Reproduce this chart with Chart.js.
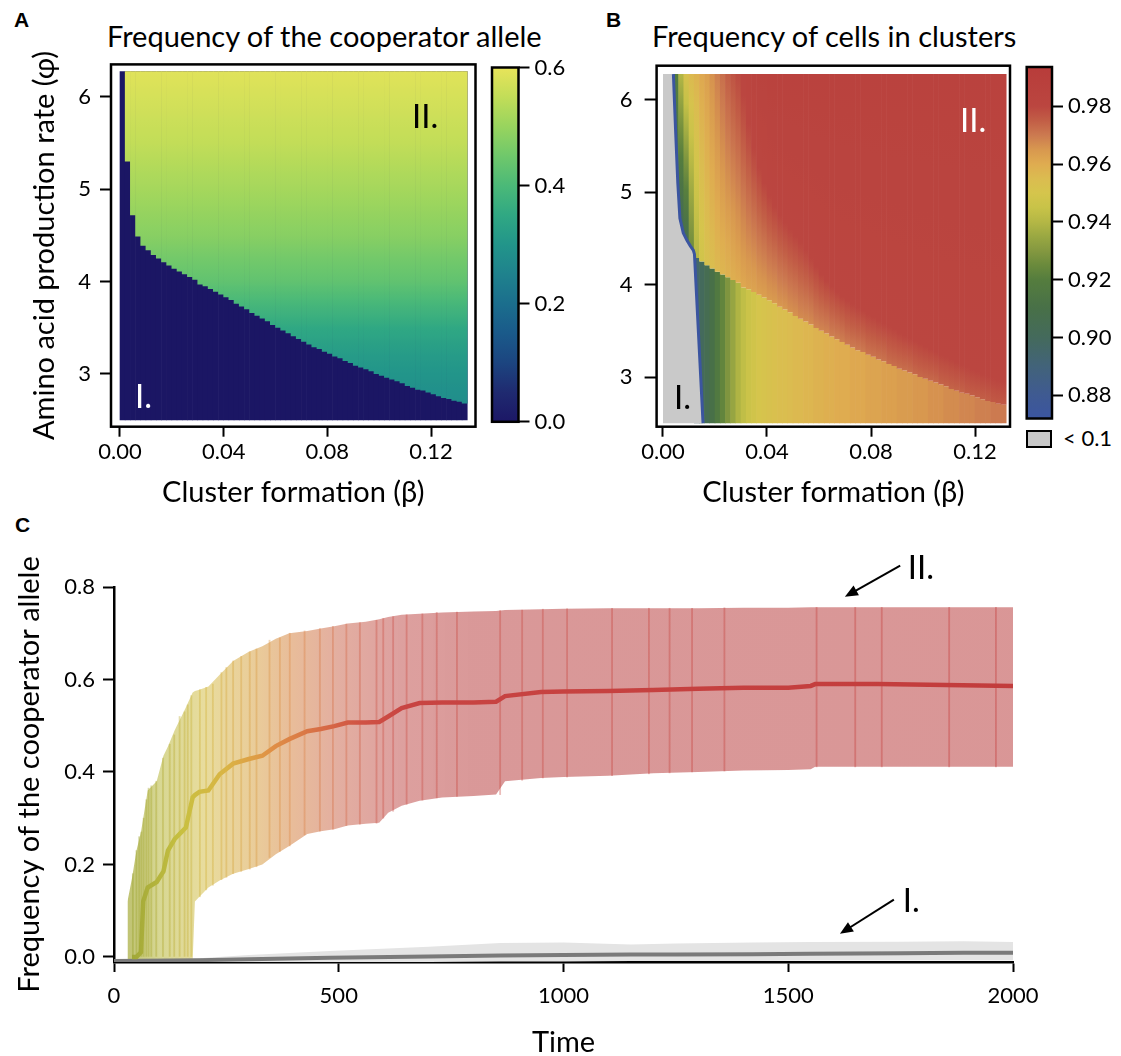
<!DOCTYPE html>
<html>
<head>
<meta charset="utf-8">
<script src="https://cdn.jsdelivr.net/npm/chart.js@4.4.1/dist/chart.umd.min.js"></script>
<style>
  body { margin: 0; background: #fff; }
  #fig { position: relative; width: 1121px; height: 1056px; overflow: hidden; font-family: Lato, sans-serif; }
  canvas { position: absolute; }
  .lbl { position: absolute; white-space: nowrap; color: #000; line-height: 1; }
  .panel { font-family: 'Liberation Sans', Arial, sans-serif; font-weight: bold; font-size: 21px; }
  .ttl { font-size: 29px; }
  #swatch { position: absolute; left: 1026px; top: 430px; width: 22px; height: 14px; background: #c8c8c8; border: 2px solid #000; }
</style>
</head>
<body>
<div id="fig">
  <div class="lbl panel" style="left:14px;top:9px">A</div>
  <div class="lbl ttl" style="left:107px;top:21px">Frequency of the cooperator allele</div>
  <div class="lbl panel" style="left:606px;top:9px">B</div>
  <div class="lbl ttl" style="left:652px;top:21px">Frequency of cells in clusters</div>
  <div class="lbl panel" style="left:15px;top:514px">C</div>
  <div id="swatch"></div>
  <div class="lbl" style="left:1063px;top:427px;font-size:22px">&lt; 0.1</div>

  <canvas id="chartA" width="560" height="520" style="left:0;top:0"></canvas>
  <canvas id="chartB" width="500" height="520" style="left:560px;top:0"></canvas>
  <canvas id="barA" width="110" height="400" style="left:470px;top:40px"></canvas>
  <canvas id="barB" width="116" height="420" style="left:1005px;top:40px"></canvas>
  <canvas id="chartC" width="1121" height="560" style="left:0;top:500px"></canvas>
</div>
<script>
// ---------- panels A and B: heat map columns (cluster formation beta) ----------
const betaCols = [0.001, 0.003, 0.005, 0.007, 0.009, 0.011, 0.013, 0.015, 0.017, 0.019,
  0.021, 0.023, 0.025, 0.027, 0.029, 0.031, 0.033, 0.035, 0.037, 0.039,
  0.041, 0.043, 0.045, 0.047, 0.049, 0.051, 0.053, 0.055, 0.057, 0.059,
  0.061, 0.063, 0.065, 0.067, 0.069, 0.071, 0.073, 0.075, 0.077, 0.079,
  0.081, 0.083, 0.085, 0.087, 0.089, 0.091, 0.093, 0.095, 0.097, 0.099,
  0.101, 0.103, 0.105, 0.107, 0.109, 0.111, 0.113, 0.115, 0.117, 0.119,
  0.121, 0.123, 0.125, 0.127, 0.129, 0.131, 0.133];
const phiMin = 2.5, phiMax = 6.28;

// phi above which cooperators persist (region II), per column
const boundaryPhi = [null, 5.30, 4.72, 4.49, 4.39, 4.34, 4.29, 4.25, 4.21, 4.175,
  4.14, 4.11, 4.08, 4.05, 4.02, 3.97, 3.95, 3.92, 3.89, 3.86,
  3.83, 3.80, 3.76, 3.73, 3.70, 3.66, 3.63, 3.60, 3.57, 3.53,
  3.50, 3.47, 3.44, 3.41, 3.38, 3.35, 3.32, 3.29, 3.27, 3.24,
  3.22, 3.19, 3.17, 3.14, 3.12, 3.09, 3.07, 3.05, 3.03, 3.00,
  2.98, 2.96, 2.94, 2.92, 2.90, 2.87, 2.85, 2.83, 2.82, 2.80,
  2.78, 2.76, 2.74, 2.73, 2.71, 2.70, 2.68];

// panel A: cooperator frequency inside region II along phi
const phiProfile = [2.5, 2.7, 3.0, 3.2, 3.5, 3.8, 4.0, 4.5, 5.0, 5.5, 6.0, 6.28];
const freqProfile = [0.27, 0.28, 0.30, 0.315, 0.35, 0.40, 0.43, 0.48, 0.515, 0.55, 0.575, 0.59];

// panel B: frequency of cells in clusters
const bLow = [null, null, null, null, null, null, 0.895, 0.90, 0.905, 0.91,
  0.917, 0.923, 0.929, 0.934, 0.939, 0.943, 0.946, 0.948, 0.950, 0.951,
  0.952, 0.953, 0.954, 0.954, 0.955, 0.956, 0.956, 0.957, 0.957, 0.958,
  0.958, 0.959, 0.959, 0.960, 0.960, 0.960, 0.961, 0.961, 0.961, 0.962,
  0.962, 0.962, 0.963, 0.963, 0.963, 0.964, 0.964, 0.964, 0.965, 0.965,
  0.965, 0.966, 0.966, 0.966, 0.967, 0.967, 0.967, 0.968, 0.968, 0.968,
  0.969, 0.969, 0.969, 0.970, 0.970, 0.970];
const bUpStart = [null, null, 0.91, 0.90, 0.905, 0.925, 0.94, 0.948, 0.952, 0.954,
  0.956, 0.957, 0.958, 0.959, 0.960, 0.961, 0.962, 0.962, 0.963, 0.963,
  0.964, 0.964, 0.965, 0.965, 0.966, 0.966, 0.967, 0.967, 0.967, 0.968,
  0.968, 0.968, 0.969, 0.969, 0.969, 0.970, 0.970, 0.970, 0.970, 0.971,
  0.971, 0.971, 0.971, 0.972, 0.972, 0.972, 0.972, 0.972, 0.973, 0.973,
  0.973, 0.973, 0.973, 0.974, 0.974, 0.974, 0.974, 0.974, 0.975, 0.975,
  0.975, 0.975, 0.975, 0.976, 0.976, 0.976];
const bRedPhi = [null, null, null, null, null, null, null, null, null, null,
  null, null, null, null, null, 6.05, 5.75, 5.48, 5.27, 5.10,
  4.96, 4.85, 4.75, 4.67, 4.60, 4.53, 4.46, 4.38, 4.29, 4.20,
  4.11, 4.04, 3.98, 3.92, 3.87, 3.83, 3.79, 3.75, 3.72, 3.68,
  3.65, 3.61, 3.58, 3.55, 3.52, 3.48, 3.45, 3.42, 3.39, 3.36,
  3.33, 3.30, 3.27, 3.24, 3.22, 3.19, 3.16, 3.13, 3.11, 3.08,
  3.06, 3.03, 3.01, 2.99, 2.97, 2.95];
const bUpTop = [null, null, 0.92, 0.94, 0.952, 0.956, 0.958, 0.961, 0.963, 0.966,
  0.969, 0.972, 0.975, 0.977, 0.979, 0.981, 0.982, 0.983, 0.984, 0.984,
  0.985, 0.985, 0.985, 0.985, 0.985, 0.985, 0.985, 0.985, 0.985, 0.985,
  0.985, 0.985, 0.985, 0.985, 0.985, 0.985, 0.985, 0.985, 0.985, 0.985,
  0.985, 0.985, 0.985, 0.985, 0.985, 0.985, 0.985, 0.985, 0.985, 0.985,
  0.985, 0.985, 0.985, 0.985, 0.985, 0.985, 0.985, 0.985, 0.985, 0.985,
  0.985, 0.985, 0.985, 0.985, 0.985, 0.985];
// edge of the "< 0.1" region (gray)
const grayEdgeBeta = [0, 0.004, 0.0048, 0.0057, 0.0065, 0.0078, 0.0092, 0.0105, 0.0117, 0.0121, 0.0154];
const grayEdgePhi = [6.28, 6.28, 5.7, 5.1, 4.72, 4.56, 4.48, 4.42, 4.37, 4.33, 2.5];

const ticksBeta = [0, 0.04, 0.08, 0.12];
const ticksPhi = [3, 4, 5, 6];
const ticksBarA = [0, 0.2, 0.4, 0.6];
const ticksBarB = [0.88, 0.90, 0.92, 0.94, 0.96, 0.98];

// ---------- panel C: time series ----------
const timeII = [30, 40, 50, 60, 65, 75, 95, 110, 120, 135, 150, 160, 175, 180, 190, 210, 235, 265, 300, 330,
  360, 390, 430, 460, 490, 520, 560, 590, 610, 640, 680, 730, 800, 850, 870, 950, 1000, 1100, 1200, 1300,
  1400, 1500, 1550, 1560, 1700, 1850, 2000];
const meanII = [null, 0.0, 0.0, 0.01, 0.12, 0.15, 0.162, 0.185, 0.23, 0.255, 0.27, 0.28, 0.345, 0.35, 0.357, 0.36, 0.395, 0.418, 0.428, 0.435,
  0.456, 0.471, 0.488, 0.493, 0.499, 0.507, 0.507, 0.508, 0.52, 0.538, 0.549, 0.55, 0.55, 0.552, 0.564, 0.573, 0.574, 0.575, 0.577, 0.58,
  0.582, 0.582, 0.586, 0.59, 0.59, 0.588, 0.586];
const upperII = [0.12, 0.17, 0.23, 0.27, 0.30, 0.36, 0.38, 0.435, 0.455, 0.49, 0.52, 0.54, 0.572, 0.575, 0.578, 0.585, 0.61, 0.64, 0.66, 0.672,
  0.688, 0.70, 0.705, 0.71, 0.715, 0.721, 0.725, 0.73, 0.735, 0.74, 0.742, 0.745, 0.747, 0.748, 0.75, 0.752, 0.753, 0.754, 0.754, 0.754,
  0.755, 0.755, 0.756, 0.756, 0.756, 0.756, 0.756];
const lowerII = [-0.008, -0.008, -0.008, -0.008, -0.008, -0.008, -0.008, -0.008, -0.008, -0.008, -0.008, -0.008, -0.008, 0.12, 0.13, 0.15, 0.165, 0.18, 0.19, 0.2,
  0.222, 0.24, 0.266, 0.272, 0.276, 0.284, 0.288, 0.29, 0.312, 0.327, 0.338, 0.345, 0.348, 0.351, 0.38, 0.387, 0.389, 0.392, 0.397, 0.40,
  0.403, 0.404, 0.406, 0.411, 0.411, 0.411, 0.411];

const timeI = [0, 190, 300, 480, 700, 860, 1000, 1150, 1250, 1420, 1550, 1750, 1890, 2000];
const meanI = [-0.009, -0.007, -0.005, -0.002, 0.001, 0.003, 0.004, 0.005, 0.005, 0.006, 0.007, 0.008, 0.009, 0.009];
const upperI = [-0.006, -0.003, 0.004, 0.013, 0.022, 0.030, 0.031, 0.027, 0.029, 0.031, 0.032, 0.033, 0.034, 0.032];
const lowerI = [-0.011, -0.011, -0.011, -0.011, -0.011, -0.010, -0.010, -0.009, -0.009, -0.009, -0.008, -0.008, -0.008, -0.008];

// individual error bars visible inside the band of II
const stripeT = [42, 50, 56, 61, 66, 72, 77, 83, 94, 109, 124, 134, 146, 157, 164, 172, 191, 205, 220, 239,
  250, 265, 283, 302, 317, 346, 369, 391, 424, 458, 487, 517, 547, 584, 599, 621, 651, 686, 718, 763,
  859, 908, 954, 1008, 1108, 1190, 1236, 1286, 1358, 1563, 1649, 1708, 1858, 1962];
const stripeLo = [0, 0, 0, 0, 0, 0, 0, 0, 0, 0, 0, 0, 0, 0, 0, 0, 0.13, 0.145, 0.155, 0.167,
  0.172, 0.18, 0.185, 0.19, 0.195, 0.215, 0.228, 0.24, 0.264, 0.272, 0.276, 0.284, 0.287, 0.289, 0.30, 0.315, 0.33, 0.339, 0.344, 0.347,
  0.351, 0.382, 0.387, 0.389, 0.392, 0.396, 0.398, 0.40, 0.402, 0.411, 0.411, 0.411, 0.411, 0.411];
const stripeHi = [0.18, 0.23, 0.26, 0.27, 0.30, 0.34, 0.365, 0.37, 0.38, 0.43, 0.46, 0.48, 0.52, 0.53, 0.545, 0.565, 0.578, 0.583, 0.59, 0.615,
  0.626, 0.64, 0.65, 0.66, 0.666, 0.685, 0.69, 0.70, 0.705, 0.71, 0.715, 0.72, 0.723, 0.728, 0.732, 0.736, 0.74, 0.742, 0.745, 0.746,
  0.749, 0.75, 0.752, 0.753, 0.754, 0.754, 0.754, 0.754, 0.755, 0.756, 0.756, 0.756, 0.756, 0.756];
const ticksTime = [0, 500, 1000, 1500, 2000];
const ticksFreq = [0, 0.2, 0.4, 0.6, 0.8];

// ---------- colours ----------
const viridis = [[0, '#1c1766'], [0.05, '#1f2a70'], [0.1, '#1c4580'], [0.15, '#1a5a8a'], [0.2, '#1b6e8d'],
  [0.25, '#1f828d'], [0.3, '#22958a'], [0.35, '#30a883'], [0.4, '#4bb978'], [0.45, '#6fc86b'],
  [0.5, '#98d45e'], [0.55, '#c2dd58'], [0.6, '#e8e45a']];
const clusterMap = [[0.872, '#3b55a0'], [0.88, '#3f5a92'], [0.89, '#42637a'], [0.90, '#446a5c'], [0.91, '#487048'],
  [0.92, '#557d3e'], [0.925, '#6a8a3c'], [0.93, '#849840'], [0.935, '#9aa842'], [0.94, '#b4b745'],
  [0.945, '#c8c348'], [0.95, '#d5c54c'], [0.955, '#dbbc50'], [0.96, '#dfac50'], [0.965, '#d8984f'],
  [0.97, '#cc7a50'], [0.975, '#c25e46'], [0.98, '#bb4640'], [0.9936, '#b83c3a']];
const bandColors = [[30, 'rgba(176,180,80,0.8)'], [100, 'rgba(205,205,120,0.8)'], [200, 'rgba(228,214,140,0.85)'],
  [300, 'rgba(230,198,136,0.85)'], [400, 'rgba(228,176,136,0.85)'], [500, 'rgba(222,160,144,0.85)'],
  [620, 'rgba(216,145,143,0.85)'], [800, 'rgba(212,138,138,0.88)'], [2000, 'rgba(212,136,136,0.88)']];
const lineColors = [[40, '#a0a838'], [150, '#c8c040'], [250, '#dab444'], [350, '#e09046'], [450, '#d87046'],
  [550, '#d05244'], [650, '#c84442'], [2000, '#c23c3c']];
const stripeColors = [[40, 'rgba(150,160,40,0.4)'], [200, 'rgba(210,180,60,0.4)'], [400, 'rgba(220,130,60,0.35)'],
  [600, 'rgba(200,70,60,0.35)'], [2000, 'rgba(195,60,60,0.4)']];
const NAVY = '#1b1664';

function hexRgb(h) { return [1, 3, 5].map(i => parseInt(h.slice(i, i + 2), 16)); }
function cmap(stops, v) {
  if (v <= stops[0][0]) return stops[0][1];
  for (let i = 1; i < stops.length; i++) {
    if (v <= stops[i][0]) {
      const t = (v - stops[i - 1][0]) / (stops[i][0] - stops[i - 1][0]);
      const a = hexRgb(stops[i - 1][1]), b = hexRgb(stops[i][1]);
      return 'rgb(' + a.map((c, k) => Math.round(c + (b[k] - c) * t)).join(',') + ')';
    }
  }
  return stops[stops.length - 1][1];
}

// vertical gradient through (phi, value) pairs, coloured with a colour map
function vGradient(chart, pairs, stops) {
  const y = chart.scales.y;
  const lo = pairs[0][0], hi = pairs[pairs.length - 1][0];
  const g = chart.ctx.createLinearGradient(0, y.getPixelForValue(lo), 0, y.getPixelForValue(hi));
  for (let i = 0; i < pairs.length; i++) {
    const [p, v] = pairs[i];
    g.addColorStop((p - lo) / (hi - lo), cmap(stops, v));
    if (i < pairs.length - 1) {
      const [p2, v2] = pairs[i + 1];
      for (let k = 1; k < 6; k++) {
        const f = k / 6;
        g.addColorStop((p + (p2 - p) * f - lo) / (hi - lo), cmap(stops, v + (v2 - v) * f));
      }
    }
  }
  return g;
}
function hGradient(chart, stops) {
  const x = chart.scales.x;
  const x0 = x.getPixelForValue(0), x1 = x.getPixelForValue(2000);
  const g = chart.ctx.createLinearGradient(x0, 0, x1, 0);
  stops.forEach(([t, c]) => g.addColorStop(t / 2000, c));
  return g;
}

Chart.defaults.font.family = 'Lato, sans-serif';
Chart.defaults.color = '#000';
Chart.defaults.animation = false;
Chart.defaults.plugins.legend.display = false;
Chart.defaults.plugins.tooltip.enabled = false;

function axis(o) {
  return {
    type: 'linear', min: o.min, max: o.max, offset: false, position: o.position,
    afterBuildTicks: s => { s.ticks = o.ticks.map(v => ({ value: v })); },
    afterFit: s => { if (o.width != null) s.width = o.width; if (o.height != null) s.height = o.height; },
    ticks: { callback: o.fmt, font: { size: 22 }, padding: o.pad, maxRotation: 0, autoSkip: false },
    grid: { display: true, drawOnChartArea: false, drawTicks: true, tickLength: o.tl, tickWidth: 2, tickColor: '#000', offset: false },
    border: { display: !!o.border, color: '#000', width: 2.5 },
    title: o.title ? { display: true, text: o.title, font: { size: 29 }, padding: o.titlePad } : { display: false }
  };
}

const framePlugin = {
  id: 'frame',
  afterDraw(chart) {
    const { ctx, chartArea: a } = chart;
    ctx.save();
    ctx.lineWidth = 2.5;
    ctx.strokeStyle = '#000';
    ctx.strokeRect(a.left, a.top, a.right - a.left, a.bottom - a.top);
    ctx.restore();
  }
};

function notes(items) {
  return {
    id: 'notes',
    afterDraw(chart) {
      const { ctx, scales: { x, y } } = chart;
      ctx.save();
      items.forEach(n => {
        if (n.arrow) {
          const x0 = x.getPixelForValue(n.arrow[0]), y0 = y.getPixelForValue(n.arrow[1]);
          const x1 = x.getPixelForValue(n.arrow[2]), y1 = y.getPixelForValue(n.arrow[3]);
          const a = Math.atan2(y1 - y0, x1 - x0), L = 13, W = 5.5;
          ctx.strokeStyle = '#000';
          ctx.lineWidth = 2;
          ctx.beginPath();
          ctx.moveTo(x0, y0);
          ctx.lineTo(x1 - 8 * Math.cos(a), y1 - 8 * Math.sin(a));
          ctx.stroke();
          ctx.fillStyle = '#000';
          ctx.beginPath();
          ctx.moveTo(x1, y1);
          ctx.lineTo(x1 - L * Math.cos(a) + W * Math.sin(a), y1 - L * Math.sin(a) - W * Math.cos(a));
          ctx.lineTo(x1 - L * Math.cos(a) - W * Math.sin(a), y1 - L * Math.sin(a) + W * Math.cos(a));
          ctx.closePath();
          ctx.fill();
        }
        ctx.font = '33px Lato, sans-serif';
        ctx.fillStyle = n.color;
        ctx.textBaseline = 'alphabetic';
        ctx.fillText(n.text, x.getPixelForValue(n.x), y.getPixelForValue(n.y));
      });
      ctx.restore();
    }
  };
}

const cell = { type: 'bar', grouped: false, barPercentage: 1.12, categoryPercentage: 1, borderWidth: 0 };

// ---------- panel A ----------
const colsA = betaCols.map((b, i) => ({ b, i })).filter(d => boundaryPhi[d.i] != null);
new Chart(document.getElementById('chartA'), {
  type: 'bar',
  data: {
    datasets: [
      Object.assign({}, cell, {
        label: 'Cooperator allele',
        data: colsA.map(d => ({ x: d.b, y: [boundaryPhi[d.i], phiMax] })),
        backgroundColor: c => c.chart.chartArea ? vGradient(c.chart, phiProfile.map((p, k) => [p, freqProfile[k]]), viridis) : NAVY,
        order: 1
      }),
      Object.assign({}, cell, {
        label: 'Lost',
        data: betaCols.map(b => ({ x: b, y: [phiMin, phiMax] })),
        backgroundColor: NAVY,
        order: 2
      })
    ]
  },
  options: {
    responsive: false,
    layout: { padding: { left: 0, top: 64.4, right: 84.5, bottom: 0 } },
    scales: {
      x: axis({ min: -0.00347, max: 0.13717, position: 'bottom', ticks: ticksBeta, fmt: v => v.toFixed(2),
        height: 93.3, tl: 10, pad: 2, title: 'Cluster formation (\u03b2)', titlePad: { top: 0, bottom: 9.6 } }),
      y: axis({ min: 2.429, max: 6.353, position: 'left', ticks: ticksPhi, fmt: v => String(v),
        width: 111, tl: 11, pad: 9, title: 'Amino acid production rate (\u03c6)', titlePad: { top: 27.6, bottom: 0 } })
    }
  },
  plugins: [framePlugin, notes([
    { text: 'II.', x: 0.1127, y: 5.66, color: '#000' },
    { text: 'I.', x: 0.0058, y: 2.63, color: '#fff' }
  ])]
});

// ---------- panel B ----------
const colsB = betaCols.slice(0, 66).map((b, i) => ({ b, i }));
const edgePts = grayEdgeBeta.map((b, i) => ({ x: b, y: grayEdgePhi[i] }));
new Chart(document.getElementById('chartB'), {
  type: 'bar',
  data: {
    datasets: [
      { type: 'line', label: 'edge', data: edgePts.slice(1), borderColor: '#3b55a0', borderWidth: 3,
        pointRadius: 0, fill: false, tension: 0, order: 0 },
      { type: 'line', label: '< 0.1', data: edgePts, borderColor: 'rgba(0,0,0,0)', borderWidth: 0,
        pointRadius: 0, fill: { value: phiMin }, backgroundColor: '#c9c9c9', tension: 0, order: 1 },
      Object.assign({}, cell, {
        label: 'Region II',
        data: colsB.filter(d => bUpStart[d.i] != null).map(d => ({ x: d.b, y: [boundaryPhi[d.i], phiMax] })),
        backgroundColor: c => {
          if (!c.chart.chartArea || c.raw == null) return '#b83c36';
          const i = betaCols.indexOf(c.raw.x);
          const pairs = [[boundaryPhi[i], bUpStart[i]]];
          if (bRedPhi[i] != null) pairs.push([bRedPhi[i], 0.98]);
          pairs.push([phiMax, bUpTop[i]]);
          return vGradient(c.chart, pairs, clusterMap);
        },
        order: 2
      }),
      Object.assign({}, cell, {
        label: 'Region I',
        data: colsB.filter(d => bLow[d.i] != null).map(d => ({ x: d.b, y: [phiMin, boundaryPhi[d.i]] })),
        backgroundColor: colsB.filter(d => bLow[d.i] != null).map(d => cmap(clusterMap, bLow[d.i])),
        order: 3
      })
    ]
  },
  options: {
    responsive: false,
    layout: { padding: { left: 0, top: 65.7, right: 50, bottom: 0 } },
    scales: {
      x: axis({ min: -0.00246, max: 0.13346, position: 'bottom', ticks: ticksBeta, fmt: v => v.toFixed(2),
        height: 93.3, tl: 10, pad: 2, title: 'Cluster formation (\u03b2)', titlePad: { top: 0, bottom: 9.6 } }),
      y: axis({ min: 2.462, max: 6.371, position: 'left', ticks: ticksPhi, fmt: v => String(v),
        width: 96.6, tl: 12, pad: 12 })
    }
  },
  plugins: [framePlugin, notes([
    { text: 'II.', x: 0.1142, y: 5.65, color: '#fff' },
    { text: 'I.', x: 0.0042, y: 2.65, color: '#000' }
  ])]
});

// ---------- colour bars ----------
function colorbar(id, stops, lo, hi, ticks, fmt, pad, width) {
  new Chart(document.getElementById(id), {
    type: 'bar',
    data: {
      labels: [''],
      datasets: [{
        data: [[lo, hi]], barPercentage: 1, categoryPercentage: 1, borderWidth: 0,
        backgroundColor: c => {
          if (!c.chart.chartArea) return stops[0][1];
          const y = c.chart.scales.y;
          const g = c.chart.ctx.createLinearGradient(0, y.getPixelForValue(lo), 0, y.getPixelForValue(hi));
          stops.forEach(([v, col]) => g.addColorStop(Math.min(1, Math.max(0, (v - lo) / (hi - lo))), col));
          return g;
        }
      }]
    },
    options: {
      responsive: false,
      layout: { padding: pad },
      scales: {
        x: { display: false },
        y: axis({ min: lo, max: hi, position: 'right', ticks, fmt, width, tl: 11, pad: 5 })
      }
    },
    plugins: [framePlugin]
  });
}
colorbar('barA', viridis, 0, 0.6, ticksBarA, v => v.toFixed(1), { left: 22, top: 27.5, bottom: 17, right: 0 }, 61.5);
colorbar('barB', clusterMap, 0.872, 0.9936, ticksBarB, v => v.toFixed(2), { left: 21.7, top: 27, bottom: 41.5, right: 0 }, 69);

// ---------- panel C ----------
const pts = (xs, ys) => xs.map((t, i) => ({ x: t, y: ys[i] }));
new Chart(document.getElementById('chartC'), {
  type: 'line',
  data: {
    datasets: [
      { label: 'II mean', data: pts(timeII, meanII), borderWidth: 4.5, pointRadius: 0, tension: 0, fill: false,
        borderColor: c => c.chart.chartArea ? hGradient(c.chart, lineColors) : '#c84040', order: 0 },
      { label: 'I mean', data: pts(timeI, meanI), borderWidth: 4, pointRadius: 0, tension: 0, fill: false,
        borderColor: '#7a7a7a', order: 1 },
      { type: 'bar', label: 'II runs', data: stripeT.map((t, i) => ({ x: t, y: [stripeLo[i], stripeHi[i]] })),
        barThickness: 1.2, grouped: false, borderWidth: 0,
        backgroundColor: c => c.chart.chartArea ? hGradient(c.chart, stripeColors) : 'rgba(0,0,0,0)', order: 2 },
      { label: 'II upper', data: pts(timeII, upperII), borderWidth: 0, borderColor: 'rgba(0,0,0,0)', pointRadius: 0,
        tension: 0, fill: '+1', backgroundColor: c => c.chart.chartArea ? hGradient(c.chart, bandColors) : 'rgba(0,0,0,0)', order: 3 },
      { label: 'II lower', data: pts(timeII, lowerII), borderWidth: 0, borderColor: 'rgba(0,0,0,0)', pointRadius: 0,
        tension: 0, fill: false, order: 4 },
      { label: 'I upper', data: pts(timeI, upperI), borderWidth: 0, borderColor: 'rgba(0,0,0,0)', pointRadius: 0,
        tension: 0, fill: '+1', backgroundColor: '#e4e4e4', order: 5 },
      { label: 'I lower', data: pts(timeI, lowerI), borderWidth: 0, borderColor: 'rgba(0,0,0,0)', pointRadius: 0,
        tension: 0, fill: false, order: 6 }
    ]
  },
  options: {
    responsive: false,
    layout: { padding: { left: 0, top: 87, right: 108, bottom: 0 } },
    scales: {
      x: axis({ min: 0, max: 2000, position: 'bottom', ticks: ticksTime, fmt: v => String(v),
        height: 98, tl: 10, pad: 11, border: true, title: 'Time', titlePad: { top: 0, bottom: 0 } }),
      y: axis({ min: -0.011, max: 0.8, position: 'left', ticks: ticksFreq, fmt: v => v.toFixed(1),
        width: 114, tl: 11, pad: 8, border: true, title: 'Frequency of the cooperator allele', titlePad: { top: 12.6, bottom: 0 } })
    }
  },
  plugins: [notes([
    { text: 'II.', x: 1766, y: 0.818, color: '#000', arrow: [1749, 0.846, 1626, 0.779] },
    { text: 'I.', x: 1755, y: 0.0976, color: '#000', arrow: [1735, 0.124, 1615, 0.05] }
  ])]
});
</script>
</body>
</html>
